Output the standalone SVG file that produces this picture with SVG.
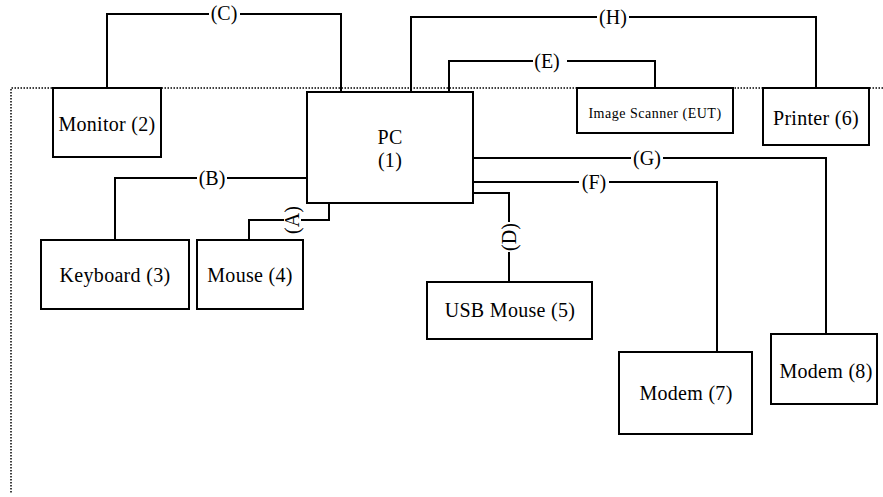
<svg xmlns="http://www.w3.org/2000/svg" width="883" height="497" viewBox="0 0 883 497">
<style>
.box{fill:#fff;stroke:#000;stroke-width:2}
.t{font-family:"Liberation Serif","Times New Roman",serif;font-size:20px;fill:#000;text-anchor:middle;letter-spacing:0.3px}
.s{font-size:14px;letter-spacing:0.5px}
.ln{fill:none;stroke:#000;stroke-width:2}
.bg{fill:#fff}
.lb{font-family:"Liberation Serif","Times New Roman",serif;font-size:20px;fill:#000;text-anchor:middle}
.dot{fill:none;stroke:#000;stroke-width:1.5;stroke-dasharray:1.5 1.5}
</style>
<polyline class="dot" points="883,88 11,88 11,494"/>
<g id="connectors">
<polyline class="ln" points="107,88 107,14 341,14 341,92"/>
<polyline class="ln" points="411,92 411,17 816,17 816,88"/>
<polyline class="ln" points="449,92 449,61 655,61 655,88"/>
<polyline class="ln" points="307,178 115,178 115,240"/>
<polyline class="ln" points="329,203 329,220 249,220 249,240"/>
<polyline class="ln" points="473,158 826,158 826,334"/>
<polyline class="ln" points="473,182 717,182 717,352"/>
<polyline class="ln" points="473,193 509,193 509,282"/>
<rect class="bg" x="209" y="6" width="31" height="18"/>
<text class="lb" x="224" y="20">(C)</text>
<rect class="bg" x="597" y="9" width="32" height="18"/>
<text class="lb" x="613" y="24">(H)</text>
<rect class="bg" x="533" y="53" width="34" height="18"/>
<text class="lb" x="547" y="68">(E)</text>
<rect class="bg" x="197" y="170" width="30" height="18"/>
<text class="lb" x="212" y="185">(B)</text>
<rect class="bg" x="579" y="174" width="30" height="18"/>
<text class="lb" x="594" y="189">(F)</text>
<rect class="bg" x="631" y="150" width="32" height="18"/>
<text class="lb" x="647" y="165">(G)</text>
<rect class="bg" x="284" y="206" width="17" height="28"/>
<text class="lb" transform="translate(299,220) rotate(-90)" x="0" y="0">(A)</text>
<rect class="bg" x="501" y="222" width="17" height="30"/>
<text class="lb" transform="translate(516,237) rotate(-90)" x="0" y="0">(D)</text>
</g>
<g id="pc"><rect class="box" x="307" y="92" width="166" height="111"/><text class="t" x="390" y="144">PC</text><text class="t" x="390" y="167">(1)</text></g>
<g id="monitor"><rect class="box" x="53" y="88" width="108" height="69"/><text class="t" x="107" y="131">Monitor (2)</text></g>
<g id="keyboard"><rect class="box" x="41" y="240" width="148" height="69"/><text class="t" x="115" y="282">Keyboard (3)</text></g>
<g id="mouse"><rect class="box" x="197" y="240" width="106" height="69"/><text class="t" x="250" y="282">Mouse (4)</text></g>
<g id="usbmouse"><rect class="box" x="427" y="282" width="165" height="57"/><text class="t" x="510" y="317">USB Mouse (5)</text></g>
<g id="scanner"><rect class="box" x="577" y="88" width="156" height="45"/><text class="t s" x="655" y="118">Image Scanner (EUT)</text></g>
<g id="printer"><rect class="box" x="763" y="88" width="106" height="57"/><text class="t" x="816" y="125">Printer (6)</text></g>
<g id="modem7"><rect class="box" x="619" y="352" width="133" height="82"/><text class="t" x="686" y="400">Modem (7)</text></g>
<g id="modem8"><rect class="box" x="771" y="334" width="106" height="70"/><text class="t" x="826" y="378">Modem (8)</text></g>
</svg>
